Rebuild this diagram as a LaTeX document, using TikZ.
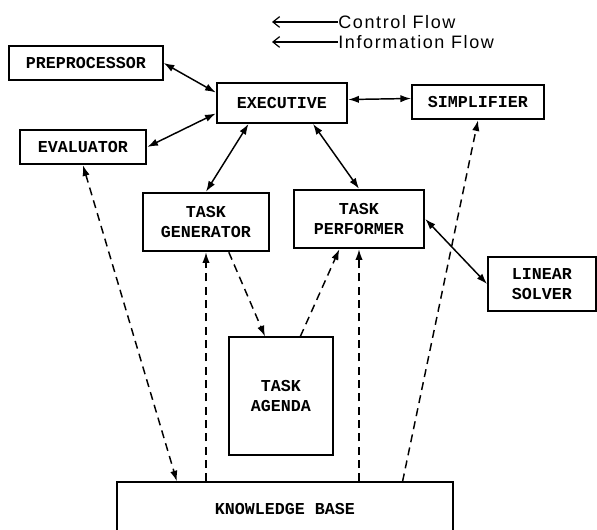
\documentclass[tikz,border=0pt]{standalone}
\usepackage{fontspec}
\setmonofont{Liberation Mono}
\newfontfamily\legendfont[LetterSpace=9]{Liberation Sans}
\usetikzlibrary{arrows.meta, calc}

\tikzset{
  box/.style={draw, line width=1.4pt, align=center, inner sep=0pt,
    font=\ttfamily\bfseries\fontsize{12.5}{15}\selectfont},
  ctrl/.style={line width=1.1pt, {Latex[length=8pt,width=5.5pt]}-{Latex[length=8pt,width=5.5pt]}},
  info/.style={line width=1.1pt, dash pattern=on 6pt off 4pt},
  infotip/.style={info, -{Latex[length=8pt,width=5.5pt]}},
  legendline/.style={line width=0.9pt, -{Straight Barb[length=5pt,width=8pt]}}
}

\begin{document}
\begin{tikzpicture}[x=0.75pt, y=-0.75pt]
  % page frame, in pixel units with y pointing down
  \clip (0,0) rectangle (597,530);
  \fill[white] (0,0) rectangle (597,530);

  % Legend
  \node[anchor=west, inner sep=0pt, font=\legendfont\fontsize{13.5}{15}\selectfont] (ctllabel) at (338,22) {Control Flow};
  \node[anchor=west, inner sep=0pt, font=\legendfont\fontsize{13.5}{15}\selectfont] (infolabel) at (338,42) {Information Flow};
  \coordinate (ctlend) at (272,22);
  \coordinate (infoend) at (272,42);
  \draw[legendline] (ctllabel.west) -- (ctlend);
  \draw[legendline] (infolabel.west) -- (infoend);

  % Modules
  \node[box, minimum width=115pt, minimum height=25pt] (pre) at (86,63) {PREPROCESSOR};
  \node[box, minimum width=98pt, minimum height=30pt] (exec) at (282,103) {EXECUTIVE};
  \node[box, minimum width=99pt, minimum height=26pt] (simp) at (478,102) {SIMPLIFIER};
  \node[box, minimum width=95pt, minimum height=26pt] (eval) at (83,147) {EVALUATOR};
  \node[box, minimum width=95pt, minimum height=44pt] (tgen) at (206,222) {TASK\\GENERATOR};
  \node[box, minimum width=98pt, minimum height=44pt] (tperf) at (359,219) {TASK\\PERFORMER};
  \node[box, minimum width=81pt, minimum height=40pt] (lsolve) at (542,284) {LINEAR\\SOLVER};
  \node[box, minimum width=78pt, minimum height=88pt] (agenda) at (281,396) {TASK\\AGENDA};
  % knowledge base runs off the bottom edge
  \node[box, minimum width=252pt, minimum height=40pt] (kb) at (285,509) {KNOWLEDGE BASE};

  % Control flow
  \draw[ctrl] (pre.east) -- (exec.171);
  \draw[ctrl] (eval.east) -- (exec.189);
  \draw[ctrl] (exec.3) -- (simp.177);
  \draw[ctrl] (exec.212) -- (tgen.north);
  \draw[ctrl] (exec.326) -- (tperf.north);
  \draw[ctrl] (tperf.east) -- (lsolve.west);

  % Information flow
  \draw[info, {Latex[length=8pt,width=5.5pt]}-{Latex[length=8pt,width=5.5pt]}] (eval.south) -- ($(kb.north west)!0.18!(kb.north east)$);
  \draw[infotip] (tgen.south |- kb.north) -- (tgen.south);
  \draw[infotip] (tgen.307) -- (agenda.105);
  \draw[infotip] (agenda.72) -- (tperf.237);
  \draw[infotip] (tperf.south |- kb.north) -- (tperf.south);
  \draw[infotip] ($(kb.north west)!0.848!(kb.north east)$) -- (simp.south);
\end{tikzpicture}
\end{document}
